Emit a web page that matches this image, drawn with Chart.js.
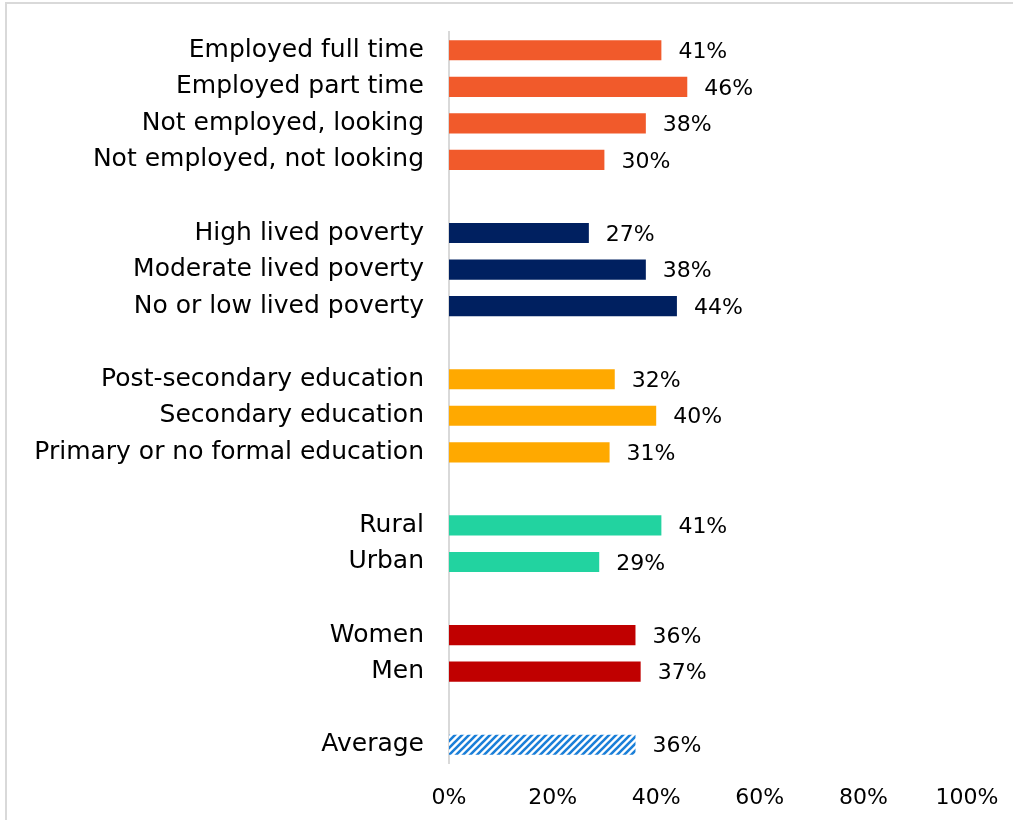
<!DOCTYPE html>
<html>
<head>
<meta charset="utf-8">
<script src="https://cdn.jsdelivr.net/npm/chart.js@4/dist/chart.umd.min.js"></script>
<style>
    html, body { margin: 0; padding: 0; background: #fff; overflow: hidden; }
    #frame { position: absolute; left: 5px; top: 2px; width: 1100px; height: 900px; border: 2px solid #d9d9d9; }
    #wrap { position: absolute; left: 0; top: 0; width: 1013px; height: 820px; }
</style>
</head>
<body>
<div id="frame"></div>
<div id="wrap"><canvas id="chart"></canvas></div>
<script>
(function () {
    'use strict';

    // groups, top to bottom; an empty row separates each group
    var employment = ['Employed full time', 'Employed part time', 'Not employed, looking', 'Not employed, not looking'];
    var employmentValues = [41, 46, 38, 30];
    var poverty = ['High lived poverty', 'Moderate lived poverty', 'No or low lived poverty'];
    var povertyValues = [27, 38, 44];
    var education = ['Post-secondary education', 'Secondary education', 'Primary or no formal education'];
    var educationValues = [32, 40, 31];
    var location = ['Rural', 'Urban'];
    var locationValues = [41, 29];
    var gender = ['Women', 'Men'];
    var genderValues = [36, 37];
    var average = ['Average'];
    var averageValues = [36];
    var xTicks = [0, 20, 40, 60, 80, 100];

    var FONT = 'DejaVu Sans';

    // diagonal hatch for the average bar
    var hatch = (function () {
        var c = document.createElement('canvas');
        c.width = 7; c.height = 7;
        var g = c.getContext('2d');
        g.fillStyle = '#ffffff';
        g.fillRect(0, 0, 7, 7);
        g.strokeStyle = '#1b7fd8';
        g.lineWidth = 2.6;
        g.beginPath();
        g.moveTo(-1, 8); g.lineTo(8, -1);
        g.moveTo(-4.5, 4.5); g.lineTo(4.5, -4.5);
        g.moveTo(2.5, 11.5); g.lineTo(11.5, 2.5);
        g.stroke();
        return g.createPattern(c, 'repeat');
    })();

    var groups = [
        [employment, employmentValues, '#f15a2b'],
        [poverty, povertyValues, '#002060'],
        [education, educationValues, '#ffa900'],
        [location, locationValues, '#22d3a0'],
        [gender, genderValues, '#c00000'],
        [average, averageValues, hatch]
    ];

    var labels = [], values = [], colors = [];
    groups.forEach(function (grp, i) {
        if (i > 0) { labels.push(''); values.push(null); colors.push('#fff'); }
        grp[0].forEach(function (name, j) {
            labels.push(name);
            values.push(grp[1][j]);
            colors.push(grp[2]);
        });
    });

    var valueLabels = {
        id: 'valueLabels',
        afterDatasetsDraw: function (chart) {
            var ctx = chart.ctx;
            var meta = chart.getDatasetMeta(0);
            ctx.save();
            ctx.font = '22px "' + FONT + '"';
            ctx.fillStyle = '#000';
            ctx.textAlign = 'left';
            ctx.textBaseline = 'middle';
            meta.data.forEach(function (bar, i) {
                var v = values[i];
                if (v == null) return;
                ctx.fillText(v + '%', bar.x + 17, bar.y + 2);
            });
            ctx.restore();
        }
    };

    new Chart(document.getElementById('chart'), {
        type: 'bar',
        data: {
            labels: labels,
            datasets: [{ data: values, backgroundColor: colors, borderWidth: 0, categoryPercentage: 1, barPercentage: 0.55 }]
        },
        options: {
            indexAxis: 'y',
            responsive: true,
            maintainAspectRatio: false,
            animation: false,
            layout: { padding: { top: 32, right: 46, left: 0, bottom: 0 } },
            plugins: { legend: { display: false }, tooltip: { enabled: false } },
            scales: {
                x: {
                    min: 0, max: 100,
                    afterBuildTicks: function (s) { s.ticks = xTicks.map(function (v) { return { value: v }; }); },
                    afterFit: function (s) { s.height = 57; s.paddingLeft = 0; s.paddingRight = 0; },
                    grid: { display: false, drawTicks: false },
                    border: { display: false },
                    ticks: { padding: 22, color: '#000', font: { family: FONT, size: 22 }, callback: function (v) { return v + '%'; } }
                },
                y: {
                    afterFit: function (s) { s.width = 449; s.paddingTop = 0; s.paddingBottom = 0; },
                    grid: { display: false, drawTicks: false },
                    border: { display: true, color: '#d9d9d9', width: 2 },
                    ticks: { padding: 25, color: '#000', autoSkip: false, font: { family: FONT, size: 25 } }
                }
            }
        },
        plugins: [valueLabels]
    });
})();
</script>
</body>
</html>
